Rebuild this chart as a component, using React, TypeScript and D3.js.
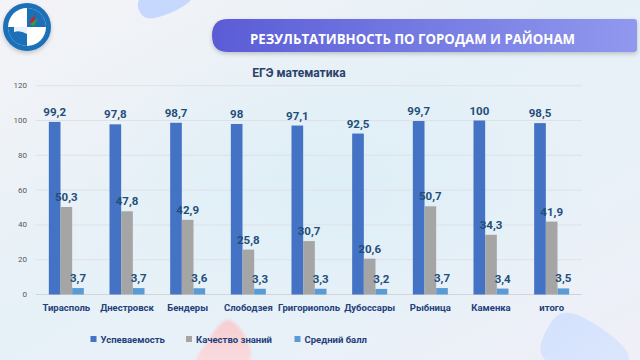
import React from "react";
import * as d3 from "d3";

const categories = ["Тирасполь", "Днестровск", "Бендеры", "Слободзея", "Григориополь", "Дубоссары", "Рыбница", "Каменка", "итого"];
const seriesNames = ["Успеваемость", "Качество знаний", "Средний балл"];
const uspevaemost = [99.2, 97.8, 98.7, 98, 97.1, 92.5, 99.7, 100, 98.5];
const kachestvo = [50.3, 47.8, 42.9, 25.8, 30.7, 20.6, 50.7, 34.3, 41.9];
const sredniy = [3.7, 3.7, 3.6, 3.3, 3.3, 3.2, 3.7, 3.4, 3.5];
const yTicks = [0, 20, 40, 60, 80, 100, 120];
const colors = ["#4472C4", "#A5A5A5", "#5B9BD5"];
const chartTitle = "ЕГЭ математика";
const header = "РЕЗУЛЬТАТИВНОСТЬ ПО ГОРОДАМ И РАЙОНАМ";

const fmt = (v: number) => String(v).replace(".", ",");

export default function App() {
  const series = [uspevaemost, kachestvo, sredniy];
  const x = d3.scaleBand<string>().domain(categories).range([36, 582]).paddingInner(0.423).paddingOuter(0.2115);
  const xi = d3.scaleBand<number>().domain([0, 1, 2]).range([0, x.bandwidth()]);
  const y = d3.scaleLinear().domain([0, 120]).range([294.5, 85.7]);
  const font = "Roboto, 'Open Sans', sans-serif";
  const legendX = [90.5, 186, 294.5];

  const pinkPath = d3.line().curve(d3.curveBasisClosed)([[232, 318], [250, 340], [256, 372], [185, 372], [205, 345], [222, 320]] as any);
  const bluePath = d3.line().curve(d3.curveBasisClosed)([[560, 308], [590, 318], [660, 372], [530, 372], [545, 330]] as any);
  const topPath = d3.line().curve(d3.curveBasisClosed)([[135, -10], [200, -10], [188, 6], [150, 22], [138, 14]] as any);

  return (
    <svg width={640} height={360} style={{ position: "absolute", left: 0, top: 0 }} fontFamily={font}>
      <defs>
        <linearGradient id="bg" x1="0" y1="0" x2="1" y2="1">
          <stop offset="0" stopColor="#f4f3f7" />
          <stop offset="0.45" stopColor="#e6f1f7" />
          <stop offset="0.7" stopColor="#e9f1f8" />
          <stop offset="1" stopColor="#efeff7" />
        </linearGradient>
        <radialGradient id="glow" cx="0.5" cy="0.5" r="0.5">
          <stop offset="0" stopColor="#ddeef6" stopOpacity="0.9" />
          <stop offset="1" stopColor="#ddeef6" stopOpacity="0" />
        </radialGradient>
        <linearGradient id="pill" x1="0" y1="0" x2="1" y2="0">
          <stop offset="0" stopColor="#5a5cd6" />
          <stop offset="1" stopColor="#9099ee" />
        </linearGradient>
        <linearGradient id="pink" x1="0" y1="0" x2="0" y2="1">
          <stop offset="0" stopColor="#f9c9cc" />
          <stop offset="1" stopColor="#fbdde0" />
        </linearGradient>
        <linearGradient id="blueShape" x1="0" y1="0" x2="1" y2="1">
          <stop offset="0" stopColor="#d3e1fd" />
          <stop offset="1" stopColor="#dce7fc" />
        </linearGradient>
        <filter id="shadow" x="-10%" y="-30%" width="120%" height="170%">
          <feDropShadow dx="0" dy="2" stdDeviation="2" floodColor="#000" floodOpacity="0.2" />
        </filter>
        <filter id="blur"><feGaussianBlur stdDeviation="1.5" /></filter>
      </defs>
      <rect width={640} height={360} fill="url(#bg)" />
      <ellipse cx={340} cy={190} rx={260} ry={150} fill="url(#glow)" />
      <path d={topPath!} fill="#c6d8fd" />
      <path d={pinkPath!} fill="url(#pink)" filter="url(#blur)" opacity={0.9} />
      <path d={bluePath!} fill="url(#blueShape)" />

      {/* logo */}
      <g filter="url(#shadow)">
        <circle cx={27} cy={27} r={24} fill="#1e6fb8" />
        <circle cx={27} cy={27} r={19} fill="#ffffff" />
        <path d="M27,8 A19,19 0 0,1 46,27 L27,27 Z" fill="#1e6fb8" />
        <path d="M27,27 L8,27 A19,19 0 0,0 27,46 Z" fill="#1e6fb8" />
        <path d="M14,22 Q20,20 27,24 L27,34 Q20,30 14,32 Z" fill="#ffffff" opacity={0.9} />
        <path d="M29,22 L36,14 L33,24 Z" fill="#c8262c" />
        <path d="M30,24 L38,18 L34,26 Z" fill="#3c9a3c" />
      </g>

      {/* header pill */}
      <path d="M228,19 L634,19 Q637,19 637,22 L637,49 Q637,52 634,52 L228,52 Q212,52 212,35.5 Q212,19 228,19 Z" fill="url(#pill)" filter="url(#shadow)" />
      <text x={412.5} y={38.5} textAnchor="middle" dominantBaseline="central" fill="#ffffff" fontSize={14} fontWeight={700} fontFamily="'Open Sans', sans-serif" textLength={325} lengthAdjust="spacingAndGlyphs">{header}</text>

      {/* chart title */}
      <text x={299} y={73} textAnchor="middle" dominantBaseline="central" fill="#2b4169" fontSize={12} fontWeight={700}>{chartTitle}</text>

      {/* grid */}
      {yTicks.map((t) => (
        <g key={t}>
          <line x1={36} x2={582} y1={y(t)} y2={y(t)} stroke={t === 0 ? "#d2d4da" : "#dfe1e6"} strokeWidth={1} />
          <text x={27} y={y(t)} textAnchor="end" dominantBaseline="central" fontSize={8} fill="#595959">{t}</text>
        </g>
      ))}

      {/* bars */}
      {categories.map((c, i) => (
        <g key={c} transform={`translate(${x(c)},0)`}>
          {series.map((s, k) => (
            <rect key={k} x={xi(k)!} width={xi.bandwidth()} y={y(s[i])} height={y(0) - y(s[i])} fill={colors[k]} />
          ))}
          {series.map((s, k) => (
            <text key={"l" + k} x={xi(k)! + xi.bandwidth() / 2} y={y(s[i]) - 10} textAnchor="middle" dominantBaseline="central" fontSize={11.5} fontWeight={700} fill="#1f4e79">{fmt(s[i])}</text>
          ))}
          <text x={x.bandwidth() / 2} y={307} textAnchor="middle" dominantBaseline="central" fontSize={9.5} fontWeight={700} fill="#23407a">{c}</text>
        </g>
      ))}

      {/* legend */}
      {seriesNames.map((n, k) => (
        <g key={n}>
          <rect x={legendX[k]} y={336} width={6} height={6} fill={colors[k]} />
          <text x={legendX[k] + 10} y={339.5} dominantBaseline="central" fontSize={9.5} fontWeight={700} fill="#23407a">{n}</text>
        </g>
      ))}
    </svg>
  );
}
